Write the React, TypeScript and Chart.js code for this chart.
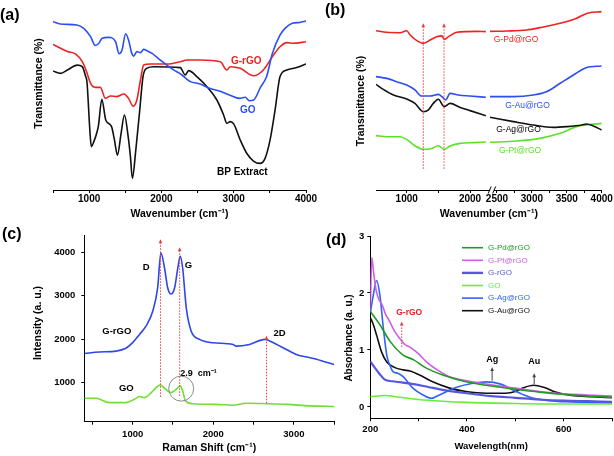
import React, { useEffect, useRef } from "react";
import { Chart, registerables } from "chart.js";

Chart.register(...registerables);

const FONT = "'Liberation Sans', Arial, Helvetica, sans-serif";
Chart.defaults.font.family = FONT;

// ===== (a) FTIR: GO, G-rGO, BP extract (wavenumber cm-1 / transmittance a.u.) =====
const aGoX = [500,600,830,925,1020,1085,1135,1180,1270,1365,1415,1455,1505,1545,1590,1615,1660,1710,1755,1800,1870,1985,2075,2170,2285,2355,2400,2535,2665,2800,2940,3080,3160,3215,3275,3375,3455,3535,3640,3710,3810,3915,4000];
const aGoY = [93.5,92.2,91.7,89.8,85.2,80.3,81.5,84.3,84.8,82.4,75.7,77.8,86.8,83.3,75.9,74.4,76.9,76.3,78.1,77.4,75.9,72.2,69.4,66.7,63.9,61.5,60.2,58.9,56.5,55.0,52.8,50.9,51.5,49.6,50.0,57.4,63.0,75.9,86.0,89.8,92.6,93.1,93.9];
const aRgoX = [500,605,700,810,905,965,1020,1090,1155,1225,1295,1385,1480,1545,1610,1660,1710,1755,1845,2075,2260,2355,2535,2815,2905,2950,3090,3275,3410,3550,3640,3735,3825,4000];
const aRgoY = [80.9,78.7,76.9,75.6,71.3,65.7,59.3,57.0,57.0,50.9,52.2,51.9,53.3,50.9,46.5,50.0,61.1,69.4,70.0,70.0,71.3,72.2,72.2,71.3,66.7,68.5,67.6,63.5,66.7,75.0,79.6,81.9,81.5,82.4];
const aBpX = [500,605,700,835,905,950,970,1010,1030,1065,1110,1130,1175,1230,1310,1350,1392,1442,1488,1540,1571,1598,1645,1700,1745,1795,1893,2260,2330,2376,2490,2630,2767,2860,2905,2950,3000,3090,3180,3273,3365,3434,3503,3572,3641,3733,3870,4000];
const aBpY = [66.1,64.8,66.7,69.4,68.5,63.3,60.0,33.0,24.1,26.9,32.4,36.1,50.4,38.9,35.2,27.8,19.4,31.5,41.7,29.6,18.5,6.5,22.0,44.4,63.0,67.6,68.5,68.0,63.9,66.3,63.0,57.4,50.0,41.7,37.0,38.0,36.7,27.8,20.4,16.1,14.8,17.6,27.8,44.4,63.0,66.7,68.0,70.0];
const aTicks = [500,1000,1500,2000,2500,3000,3500,4000];
const aTickLabels = ["","1000","","2000","","3000","","4000"];

// ===== (b) FTIR of metal@rGO (broken wavenumber axis) =====
const bPdX = [515,685,895,1000,1055,1160,1265,1370,1475,1555,1595,1660,1790,1950,2105,2250,2400,2640,2925,3115,3405,3640,3785,4000];
const bPdY = [88.5,87.6,87.4,88.5,86.1,83.0,81.5,83.3,85.2,85.6,83.7,85.2,87.6,88.0,88.1,88.0,88.1,88.3,88.9,90.2,92.6,95.4,98.1,99.1];
const bAuX = [515,685,840,1000,1130,1235,1370,1500,1555,1615,1685,1815,2000,2250,2400,2735,3020,3210,3405,3595,3785,4000];
const bAuY = [63.0,62.0,60.2,58.3,55.6,52.2,52.2,53.1,51.9,50.0,53.7,52.8,52.2,51.5,51.9,51.9,52.8,54.6,59.3,63.9,68.0,68.9];
const bAgX = [515,630,790,1000,1130,1265,1340,1420,1500,1590,1685,1845,2000,2250,2400,2735,3020,3305,3500,3715,3785,3880,4000];
const bAgY = [58.7,55.9,52.8,50.6,48.1,43.5,44.4,48.1,50.4,46.3,48.1,45.9,44.1,41.3,40.4,38.0,36.1,34.8,35.2,36.1,36.7,35.6,33.3];
const bPtX = [515,685,895,1000,1130,1265,1395,1500,1590,1685,1845,2055,2250,2400,2780,3115,3405,3640,3785,4000];
const bPtY = [30.2,29.6,29.6,28.1,24.6,22.6,23.1,24.6,22.6,24.4,25.9,26.3,26.7,26.5,27.2,28.7,31.5,35.2,36.1,37.0];
const bTicks = [1000,1500,2000,2500,2750,3000,3250,3500,3750,4000];
const bTickLabels = ["1000","","2000","2500","","3000","","3500","","4000"];
const bMarkers = [1262, 1590];

// ===== (c) Raman =====
const cRgoX = [400,585,795,915,1000,1085,1165,1250,1310,1350,1395,1435,1475,1520,1560,1590,1620,1665,1725,1830,1995,2245,2285,2450,2640,2700,2865,3030,3200,3280,3500];
const cRgoY = [1670,1705,1725,1790,1920,2110,2300,2650,3180,3990,3640,3180,3040,3180,3640,3910,3640,2720,2190,1995,1920,1880,1840,1880,1995,1960,1805,1650,1575,1540,1415];
const cGoX = [400,545,710,915,1020,1085,1145,1230,1290,1345,1395,1475,1540,1590,1620,1655,1745,2035,2245,2410,2660,2910,3200,3500];
const cGoY = [640,640,540,540,615,680,655,770,885,945,870,770,845,925,810,580,515,500,480,525,515,500,465,450];
const cXTicks = [500,1000,1500,2000,2500,3000,3500];
const cXTickLabels = ["","1000","","2000","","3000",""];
const cYTicks = [1000,2000,3000,4000];
const cYTickLabels = ["1000","2000","3000","4000"];

// ===== (d) UV-vis =====
const dPdX = [200,220,241,268,289,316,350,398,446,500,550,600,650,700];
const dPdY = [1.68,1.44,1.15,0.91,0.83,0.68,0.56,0.44,0.37,0.31,0.26,0.22,0.19,0.17];
const dPtX = [200,203,207,212,218,224,232,240,250,261,271,282,300,316,340,364,400,450,500,550,600,650,700];
const dPtY = [1.68,2.62,2.35,2.05,1.88,1.8,1.62,1.5,1.33,1.2,1.1,1.05,0.93,0.79,0.64,0.53,0.46,0.39,0.33,0.27,0.23,0.21,0.19];
const dRgoX = [200,210,220,230,245,265,290,320,350,400,450,500,550,600,650,700];
const dRgoY = [0.8,0.68,0.57,0.48,0.45,0.43,0.4,0.35,0.3,0.24,0.19,0.16,0.13,0.11,0.1,0.09];
const dGoX = [200,230,260,300,350,400,500,600,700];
const dGoY = [0.18,0.2,0.17,0.13,0.1,0.08,0.06,0.05,0.05];
const dAgX = [200,206,213,220,227,234,240,247,257,268,288,309,326,343,377,410,440,470,494,515,538,570,603,650,700];
const dAgY = [1.65,1.95,2.22,1.95,1.38,0.91,0.74,0.62,0.59,0.53,0.33,0.21,0.15,0.21,0.34,0.41,0.44,0.4,0.3,0.22,0.15,0.11,0.09,0.08,0.07];
const dAuX = [200,206,213,223,234,251,268,282,302,329,364,398,440,480,500,515,538,560,583,617,660,700];
const dAuY = [1.57,1.45,1.26,0.97,0.79,0.69,0.65,0.63,0.56,0.44,0.33,0.27,0.24,0.24,0.27,0.33,0.38,0.34,0.26,0.2,0.18,0.16];
const dXTicks = [200,300,400,500,600,700];
const dXTickLabels = ["200","","400","","600",""];
const dYTicks = [0,1,2,3];
const dYTickLabels = ["0","1","2","3"];

// ===== colours =====
const RED = "#ee2222";
const BLUE = "#2c4ff2";
const BLACK = "#111111";
const LGREEN = "#5ee02a";
const C_BLUE = "#2d47ea";
const C_GREEN = "#6ee034";
const D_PD = "#1f9a22";
const D_PT = "#cc5fe2";
const D_RGO = "#5656e0";
const D_GO = "#66ee33";
const D_AG = "#2f64f6";
const D_AU = "#111111";
const MARK = "#f03a3a";

const W = 614;
const H = 456;

function pts(xs: number[], ys: number[]) {
  return xs.map((x, i) => ({ x, y: ys[i] }));
}

// broken axis of panel (b): left block 515-2300, right block 2400-4000
function bPos(wn: number) {
  return wn <= 2350 ? (wn - 515) * 0.0633 : 114 + (wn - 2400) * 0.0698;
}
function bPts(xs: number[], ys: number[]) {
  const out: any[] = [];
  xs.forEach((x, i) => {
    if (i > 0 && xs[i - 1] < 2350 && x > 2350) out.push({ x: bPos(2350), y: null });
    out.push({ x: bPos(x), y: ys[i] });
  });
  return out;
}

function ds(label: string, data: any[], color: string, width = 1.6) {
  return {
    label, data, borderColor: color, backgroundColor: color, borderWidth: width,
    pointRadius: 0, cubicInterpolationMode: "monotone", fill: false, spanGaps: false,
  };
}

function xAxis(min: number, max: number, vals: number[], lbls: string[], title: string, h: number, o: any) {
  return {
    type: "linear", min, max,
    afterBuildTicks: (s: any) => { s.ticks = vals.map((v) => ({ value: v })); },
    afterFit: (s: any) => { s.height = h; },
    ticks: {
      autoSkip: false, maxRotation: 0, minRotation: 0, color: "#000", padding: o.pad,
      font: { size: o.tick, weight: "bold", family: FONT },
      callback: (_v: any, i: number) => lbls[i],
    },
    grid: { drawOnChartArea: false, drawTicks: true, tickLength: 3, color: "#000", lineWidth: 1 },
    border: { display: true, color: "#000", width: 1 },
    title: {
      display: true, text: title, color: "#000",
      font: { size: o.title, weight: "bold", family: FONT }, padding: { top: 0, bottom: 0 },
    },
  };
}

function yAxis(min: number, max: number, vals: number[], lbls: string[], w: number, o: any) {
  return {
    type: "linear", min, max,
    afterBuildTicks: (s: any) => { s.ticks = vals.map((v) => ({ value: v })); },
    afterFit: (s: any) => { s.width = w; },
    ticks: {
      autoSkip: false, color: "#000", padding: o.pad,
      font: { size: o.tick, weight: "bold", family: FONT },
      callback: (_v: any, i: number) => lbls[i],
    },
    grid: { drawOnChartArea: false, drawTicks: true, tickLength: 3, color: "#000", lineWidth: 1 },
    border: { display: true, color: "#000", width: 1 },
  };
}

function baseOptions(padding: any, scales: any) {
  return {
    animation: false, responsive: false, maintainAspectRatio: false, devicePixelRatio: 1, events: [],
    layout: { padding },
    plugins: { legend: { display: false }, tooltip: { enabled: false } },
    scales,
  };
}

// ---- drawing helpers for annotations ----
function text(ctx: any, s: string, x: number, y: number, color: string, font: string, align = "center", rot = 0) {
  ctx.save();
  ctx.translate(x, y);
  ctx.rotate(rot);
  ctx.fillStyle = color;
  ctx.font = font;
  ctx.textAlign = align;
  ctx.textBaseline = "middle";
  ctx.fillText(s, 0, 0);
  ctx.restore();
}
function arrowLine(ctx: any, x: number, yTop: number, yBot: number, color: string, dotted: boolean) {
  ctx.save();
  ctx.strokeStyle = color;
  ctx.fillStyle = color;
  ctx.lineWidth = 1;
  if (dotted) ctx.setLineDash([1.5, 1.5]);
  ctx.beginPath();
  ctx.moveTo(x, yTop + 3);
  ctx.lineTo(x, yBot);
  ctx.stroke();
  ctx.setLineDash([]);
  ctx.beginPath();
  ctx.moveTo(x, yTop);
  ctx.lineTo(x - 1.8, yTop + 4);
  ctx.lineTo(x + 1.8, yTop + 4);
  ctx.closePath();
  ctx.fill();
  ctx.restore();
}
const X = (c: any, v: number) => c.scales.x.getPixelForValue(v);
const Y = (c: any, v: number) => c.scales.y.getPixelForValue(v);

// ---- chart makers ----
function makeA() {
  return {
    type: "line",
    data: {
      datasets: [
        ds("GO", pts(aGoX, aGoY), BLUE),
        ds("G-rGO", pts(aRgoX, aRgoY), RED),
        ds("BP Extract", pts(aBpX, aBpY), BLACK),
      ],
    },
    options: baseOptions({ left: 53, right: 308, top: 10, bottom: 235.4 }, {
      x: xAxis(500, 4000, aTicks, aTickLabels, "Wavenumber (cm\u207B\u00B9)", 30.6, { pad: 0, tick: 10, title: 10.5 }),
      y: { type: "linear", display: false, min: 0, max: 100 },
    }),
    plugins: [{
      id: "annA",
      afterDraw(c: any) {
        const ctx = c.ctx;
        text(ctx, "Transmittance (%)", 39.5, 83.5, "#000", `bold 10.5px ${FONT}`, "center", -Math.PI / 2);
        text(ctx, "G-rGO", X(c, 3173), Y(c, 71.7), RED, `bold 10px ${FONT}`);
        text(ctx, "GO", X(c, 3194), Y(c, 44.4), BLUE, `bold 10px ${FONT}`);
        text(ctx, "BP Extract", X(c, 3119), Y(c, 10), "#000", `bold 10px ${FONT}`);
      },
    }],
  };
}

function makeB() {
  return {
    type: "line",
    data: {
      datasets: [
        ds("G-Pd@rGO", bPts(bPdX, bPdY), RED),
        ds("G-Au@rGO", bPts(bAuX, bAuY), BLUE),
        ds("G-Ag@rGO", bPts(bAgX, bAgY), BLACK),
        ds("G-Pt@rGO", bPts(bPtX, bPtY), LGREEN),
      ],
    },
    options: baseOptions({ left: 376, right: 12.3, top: 10, bottom: 235.4 }, {
      x: xAxis(0, bPos(4000), bTicks.map(bPos), bTickLabels, "Wavenumber (cm\u207B\u00B9)", 30.6, { pad: 0, tick: 10, title: 10.5 }),
      y: { type: "linear", display: false, min: 0, max: 100 },
    }),
    plugins: [{
      id: "annB",
      afterDraw(c: any) {
        const ctx = c.ctx;
        text(ctx, "Transmittance (%)", 361, 101, "#000", `bold 10.5px ${FONT}`, "center", -Math.PI / 2);
        bMarkers.forEach((wn) => arrowLine(ctx, X(c, bPos(wn)), Y(c, 92.6), Y(c, 11.1), MARK, true));
        const f = `8.5px ${FONT}`;
        text(ctx, "G-Pd@rGO", X(c, bPos(2773)), Y(c, 83.3), RED, f);
        text(ctx, "G-Au@rGO", X(c, bPos(2937)), Y(c, 46.7), BLUE, f);
        text(ctx, "G-Ag@rGO", X(c, bPos(2808)), Y(c, 33.3), "#000", f);
        text(ctx, "G-Pt@rGO", X(c, bPos(2830)), Y(c, 21.7), LGREEN, f);
        // axis break mark
        const xb = X(c, bPos(2350));
        const yb = c.chartArea.bottom;
        ctx.save();
        ctx.fillStyle = "#fff";
        ctx.fillRect(xb - 2, yb - 2, 4, 4);
        ctx.strokeStyle = "#000";
        ctx.lineWidth = 1;
        ctx.beginPath();
        ctx.moveTo(xb - 4, yb + 3.5); ctx.lineTo(xb - 1, yb - 3.5);
        ctx.moveTo(xb + 0.5, yb + 3.5); ctx.lineTo(xb + 3.5, yb - 3.5);
        ctx.stroke();
        ctx.restore();
      },
    }],
  };
}

function makeC() {
  return {
    type: "line",
    data: {
      datasets: [
        ds("G-rGO", pts(cRgoX, cRgoY), C_BLUE),
        ds("GO", pts(cGoX, cGoY), C_GREEN),
      ],
    },
    options: baseOptions({ left: 40, right: 279.8, top: 235, bottom: 1.3 }, {
      x: xAxis(400, 3500, cXTicks, cXTickLabels, "Raman Shift (cm\u207B\u00B9)", 33, { pad: 3.5, tick: 9.5, title: 10.5 }),
      y: yAxis(100, 4400, cYTicks, cYTickLabels, 44.3, { pad: 6, tick: 9.5 }),
    }),
    plugins: [{
      id: "annC",
      afterDraw(c: any) {
        const ctx = c.ctx;
        text(ctx, "Intensity (a. u.)", 38, 323, "#000", `bold 10.5px ${FONT}`, "center", -Math.PI / 2);
        arrowLine(ctx, X(c, 1345), Y(c, 4300), Y(c, 660), MARK, true);
        arrowLine(ctx, X(c, 1583), Y(c, 4115), Y(c, 660), MARK, true);
        arrowLine(ctx, X(c, 2660), Y(c, 2080), Y(c, 525), MARK, true);
        const f = `bold 9.5px ${FONT}`;
        text(ctx, "D", X(c, 1167), Y(c, 3649), "#000", f);
        text(ctx, "G", X(c, 1693), Y(c, 3694), "#000", f);
        text(ctx, "G-rGO", X(c, 803), Y(c, 2178), "#000", f);
        text(ctx, "2D", X(c, 2822), Y(c, 2144), "#000", f);
        text(ctx, "GO", X(c, 921), Y(c, 869), "#000", f);
        text(ctx, "2.9  cm\u207B\u00B9", X(c, 1817), Y(c, 1214), "#000", `bold 9px ${FONT}`);
        ctx.save();
        ctx.strokeStyle = "#8a8a8a";
        ctx.lineWidth = 1;
        ctx.beginPath();
        ctx.arc(X(c, 1602), Y(c, 862), 12.5, 0, Math.PI * 2);
        ctx.stroke();
        ctx.restore();
      },
    }],
  };
}

const dLegend = [
  { t: "G-Pd@rGO", color: D_PD, w: 1.6 },
  { t: "G-Pt@rGO", color: D_PT, w: 1.6 },
  { t: "G-rGO", color: D_RGO, w: 2.4 },
  { t: "GO", color: D_GO, w: 1.6 },
  { t: "G-Ag@rGO", color: D_AG, w: 1.6 },
  { t: "G-Au@rGO", color: D_AU, w: 1.6 },
];

function makeD() {
  return {
    type: "line",
    data: {
      datasets: [
        ds("G-Pd@rGO", pts(dPdX, dPdY), D_PD),
        ds("G-Pt@rGO", pts(dPtX, dPtY), D_PT),
        ds("G-rGO", pts(dRgoX, dRgoY), D_RGO, 2.2),
        ds("GO", pts(dGoX, dGoY), D_GO),
        ds("G-Ag@rGO", pts(dAgX, dAgY), D_AG),
        ds("G-Au@rGO", pts(dAuX, dAuY), D_AU),
      ],
    },
    options: baseOptions({ left: 340, right: 0.2, top: 236, bottom: 4.4 }, {
      x: xAxis(200, 700, dXTicks, dXTickLabels, "Wavelength(nm)", 33.3, { pad: 2, tick: 9.5, title: 9.5 }),
      y: yAxis(-0.2, 3, dYTicks, dYTickLabels, 30.3, { pad: 3, tick: 9.5 }),
    }),
    plugins: [{
      id: "annD",
      afterDraw(c: any) {
        const ctx = c.ctx;
        const a = c.chartArea;
        text(ctx, "Absorbance (a. u.)", 349, 338, "#000", `bold 10px ${FONT}`, "center", -Math.PI / 2);
        // legend
        dLegend.forEach((it, i) => {
          const y = a.top + 11.7 + i * 12.6;
          ctx.save();
          ctx.strokeStyle = it.color;
          ctx.lineWidth = it.w;
          ctx.beginPath();
          ctx.moveTo(a.left + 91.7, y);
          ctx.lineTo(a.left + 112.7, y);
          ctx.stroke();
          ctx.restore();
          text(ctx, it.t, a.left + 117.7, y, it.color, `8px ${FONT}`, "left");
        });
        text(ctx, "G-rGO", X(c, 280.5), Y(c, 1.66), "#e82020", `bold 8.5px ${FONT}`);
        arrowLine(ctx, X(c, 265), Y(c, 1.5), Y(c, 1.05), MARK, true);
        text(ctx, "Ag", X(c, 452.5), Y(c, 0.84), "#000", `bold 9px ${FONT}`);
        arrowLine(ctx, X(c, 452), Y(c, 0.7), Y(c, 0.46), "#444", false);
        text(ctx, "Au", X(c, 539), Y(c, 0.79), "#000", `bold 9px ${FONT}`);
        arrowLine(ctx, X(c, 539), Y(c, 0.59), Y(c, 0.4), "#444", false);
      },
    }],
  };
}

function ChartLayer({ make }: { make: () => any }) {
  const ref = useRef<HTMLCanvasElement>(null);
  useEffect(() => {
    const ch = new Chart(ref.current as HTMLCanvasElement, make() as any);
    return () => ch.destroy();
  }, [make]);
  return (
    <canvas
      ref={ref}
      width={W}
      height={H}
      style={{ position: "absolute", left: 0, top: 0, width: W, height: H }}
    />
  );
}

const panelLabel = (s: string, left: number, top: number) => (
  <div
    style={{
      position: "absolute", left, top, font: `bold 16px ${FONT}`, lineHeight: "16px", color: "#000",
    }}
  >
    {s}
  </div>
);

export default function App() {
  return (
    <div
      style={{
        position: "absolute", left: 0, top: 0, width: W, height: H,
        background: "#fff", overflow: "hidden", fontFamily: FONT,
      }}
    >
      <ChartLayer make={makeA} />
      <ChartLayer make={makeB} />
      <ChartLayer make={makeC} />
      <ChartLayer make={makeD} />
      {panelLabel("(a)", 0, 7)}
      {panelLabel("(b)", 325, 2)}
      {panelLabel("(c)", 2, 226)}
      {panelLabel("(d)", 326, 232)}
    </div>
  );
}
